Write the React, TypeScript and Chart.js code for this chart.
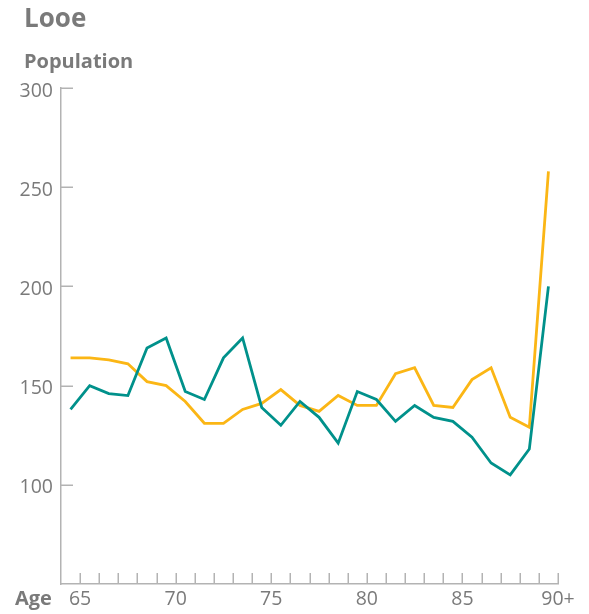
import React, { useEffect, useRef } from "react";
import { Chart, registerables } from "chart.js";

Chart.register(...registerables);

const ages = [65, 66, 67, 68, 69, 70, 71, 72, 73, 74, 75, 76, 77, 78, 79, 80, 81, 82, 83, 84, 85, 86, 87, 88, 89, 90];
const tealValues = [138, 150, 146, 145, 169, 174, 147, 143, 164, 174, 139, 130, 142, 134, 121, 147, 143, 132, 140, 134, 132, 124, 111, 105, 118, 200];
const orangeValues = [164, 164, 163, 161, 152, 150, 142, 131, 131, 138, 141, 148, 140, 137, 145, 140, 140, 156, 159, 140, 139, 153, 159, 134, 129, 258];
const yTicks = [100, 150, 200, 250, 300];
const labeledAges = [65, 70, 75, 80, 85, 90];

const FONT = "'Open Sans', 'Noto Sans', sans-serif";
const GREY = "#7a7a7a";
const AXIS = "#b3b3b3";

export default function App() {
  const ref = useRef<HTMLCanvasElement | null>(null);

  useEffect(() => {
    document.body.style.margin = "0";
    const canvas = ref.current;
    if (!canvas) return;

    const inwardTicks = {
      id: "inwardTicks",
      afterDraw(chart: any) {
        const ctx = chart.ctx;
        const xs = chart.scales.x;
        const ys = chart.scales.y;
        const area = chart.chartArea;
        ctx.save();
        ctx.strokeStyle = AXIS;
        ctx.lineWidth = 1.5;
        ctx.beginPath();
        for (const a of ages) {
          const px = Math.round(xs.getPixelForValue(a)) + 0.25;
          ctx.moveTo(px, area.bottom);
          ctx.lineTo(px, area.bottom - 11);
        }
        for (const v of yTicks) {
          const py = Math.round(ys.getPixelForValue(v)) + 0.25;
          ctx.moveTo(area.left, py);
          ctx.lineTo(area.left + 12, py);
        }
        ctx.stroke();
        ctx.fillStyle = GREY;
        ctx.textBaseline = "alphabetic";
        ctx.textAlign = "left";
        ctx.font = `bold 26px ${FONT}`;
        ctx.fillText("Looe", 24, 27);
        ctx.font = `bold 20px ${FONT}`;
        ctx.fillText("Population", 24, 68);
        ctx.fillText("Age", 15, 605);
        ctx.restore();
      },
    };

    const chart = new Chart(canvas, {
      type: "line",
      data: {
        datasets: [
          {
            label: "Series A",
            data: ages.map((a, i) => ({ x: a - 0.5, y: tealValues[i] })),
            borderColor: "#00918b",
            borderWidth: 2.8,
            pointRadius: 0,
            tension: 0,
          },
          {
            label: "Series B",
            data: ages.map((a, i) => ({ x: a - 0.5, y: orangeValues[i] })),
            borderColor: "#fbb615",
            borderWidth: 2.8,
            pointRadius: 0,
            tension: 0,
          },
        ],
      },
      options: {
        animation: false,
        responsive: false,
        layout: { padding: { top: 88, right: 31, left: 0, bottom: 0 } },
        plugins: {
          legend: { display: false },
          tooltip: { enabled: false },
          title: { display: false },
        },
        scales: {
          x: {
            type: "linear",
            min: 64,
            max: 90,
            grid: { display: false },
            border: { display: true, color: AXIS, width: 1.5 },
            afterFit(scale: any) {
              scale.height = 30;
            },
            afterBuildTicks(scale: any) {
              scale.ticks = labeledAges.map((v) => ({ value: v }));
            },
            ticks: {
              autoSkip: false,
              maxRotation: 0,
              padding: -4,
              color: GREY,
              font: { family: FONT, size: 19.5 },
              callback: (v: any) => (v === 90 ? "90+" : String(v)),
            },
          },
          y: {
            min: 50,
            max: 300,
            grid: { display: false },
            border: { display: true, color: AXIS, width: 1.5 },
            afterFit(scale: any) {
              scale.width = 61;
            },
            afterBuildTicks(scale: any) {
              scale.ticks = yTicks.map((v) => ({ value: v }));
            },
            ticks: {
              padding: 0,
              labelOffset: 3,
              color: GREY,
              font: { family: FONT, size: 19.5 },
            },
          },
        },
      },
      plugins: [inwardTicks],
    });
    return () => chart.destroy();
  }, []);

  return (
    <div style={{ position: "absolute", left: 0, top: 0, width: 589, height: 614 }}>
      <canvas ref={ref} width={589} height={614} style={{ width: 589, height: 614 }} />
    </div>
  );
}
